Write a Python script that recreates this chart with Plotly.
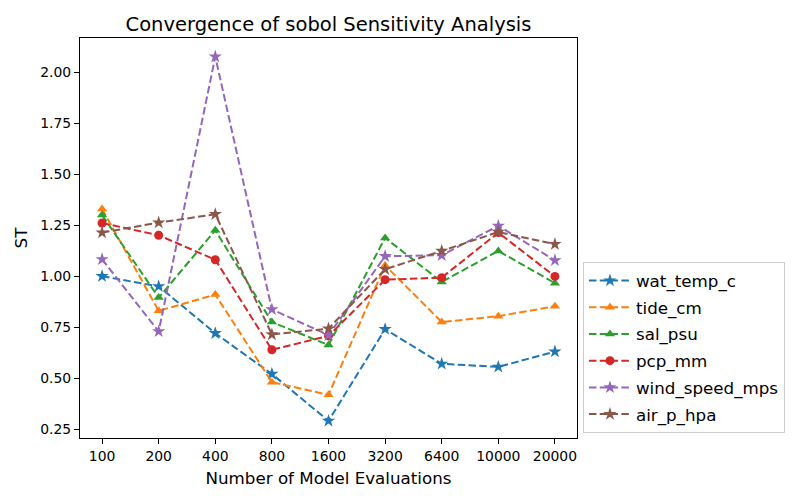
import plotly.graph_objects as go

categories = ["100", "200", "400", "800", "1600", "3200", "6400", "10000", "20000"]

wat_temp_c = [1.00, 0.95, 0.72, 0.52, 0.29, 0.74, 0.57, 0.555, 0.63]
tide_cm = [1.33, 0.83, 0.91, 0.48, 0.418, 1.053, 0.775, 0.804, 0.852]
sal_psu = [1.30, 0.895, 1.225, 0.775, 0.662, 1.188, 0.972, 1.124, 0.966]
pcp_mm = [1.261, 1.201, 1.081, 0.639, 0.707, 0.983, 0.993, 1.214, 0.999]
wind_speed_mps = [1.083, 0.729, 2.077, 0.837, 0.711, 1.098, 1.103, 1.247, 1.078]
air_p_hpa = [1.214, 1.263, 1.304, 0.714, 0.743, 1.034, 1.124, 1.217, 1.157]

series = [
    ("wat_temp_c", wat_temp_c, "#1f77b4", "star", 10),
    ("tide_cm", tide_cm, "#ff7f0e", "triangle-up", 9),
    ("sal_psu", sal_psu, "#2ca02c", "triangle-up", 9),
    ("pcp_mm", pcp_mm, "#d62728", "circle", 9),
    ("wind_speed_mps", wind_speed_mps, "#9467bd", "star", 10),
    ("air_p_hpa", air_p_hpa, "#8c564b", "star", 10),
]

fig = go.Figure()
for name, vals, color, sym, size in series:
    fig.add_trace(go.Scatter(
        x=categories, y=vals, name=name, mode="lines+markers", legendgroup=name,
        line=dict(color=color, width=2, dash="7.5px,3.3px"),
        marker=dict(symbol=sym, size=size, color=color, line=dict(width=0)),
    ))

axis_common = dict(
    showline=True, linecolor="black", linewidth=1, mirror=True,
    ticks="outside", ticklen=5, tickcolor="black", tickwidth=1,
    showgrid=False, zeroline=False,
    tickfont=dict(family="DejaVu Sans", size=13.9, color="black"),
)

fig.update_layout(
    width=800, height=500,
    margin=dict(l=80, r=223, t=38, b=62),
    paper_bgcolor="white", plot_bgcolor="white",
    title=dict(text="Convergence of sobol Sensitivity Analysis",
               font=dict(family="DejaVu Sans", size=19.5, color="black"),
               x=(80 + 577) / 2 / 800, xanchor="center", y=1 - 24 / 500, yanchor="middle"),
    xaxis=dict(type="category", range=[-0.39, 8.39],
               title=dict(text="Number of Model Evaluations",
                          font=dict(family="DejaVu Sans", size=16.7, color="black"), standoff=9),
               **axis_common),
    yaxis=dict(range=[0.206, 2.169], tickvals=[0.25, 0.5, 0.75, 1.0, 1.25, 1.5, 1.75, 2.0],
               tickformat=".2f",
               title=dict(text="ST", font=dict(family="DejaVu Sans", size=16.7, color="black"), standoff=8),
               **axis_common),
    legend=dict(x=1.012, xanchor="left", y=0.012, yanchor="bottom",
                font=dict(family="DejaVu Sans", size=16.7, color="black"),
                bordercolor="#cccccc", borderwidth=1, bgcolor="white",
                tracegroupgap=2, itemwidth=42),
    showlegend=True,
)

fig.write_html("out.html")
